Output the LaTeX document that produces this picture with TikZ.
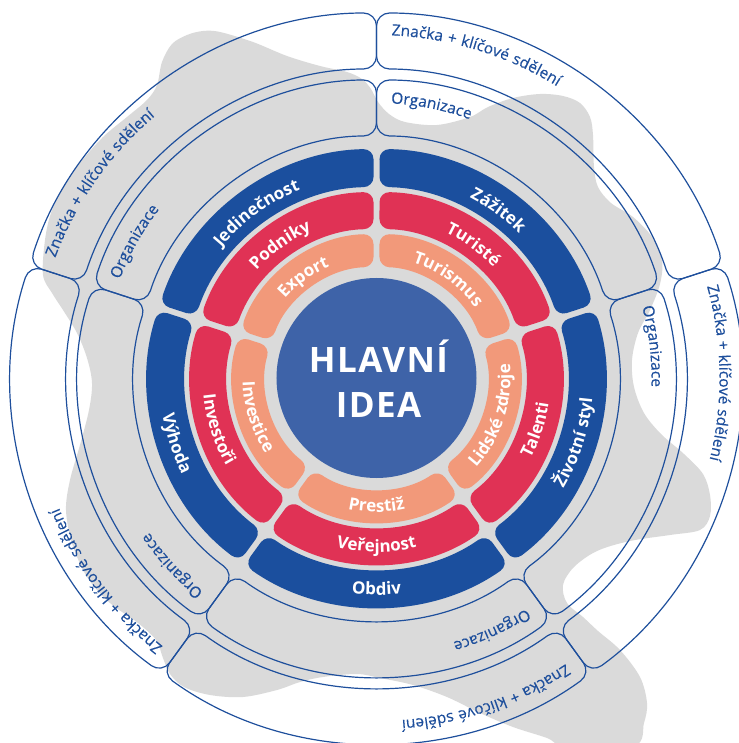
\documentclass[tikz,border=0pt]{standalone}
\usepackage{fontspec}
\setmainfont{Open Sans}
\newfontfamily\olfontfam[LetterSpace=5,FakeBold=0.35]{Open Sans}
\newfontfamily\lblfam[LetterSpace=5]{Open Sans}
\newfontfamily\ideafam[LetterSpace=4]{Open Sans}
\usetikzlibrary{decorations.text}
\definecolor{ringblue}{HTML}{1B4F9E}
\definecolor{diskblue}{HTML}{3E63A8}
\definecolor{ringred}{HTML}{E03255}
\definecolor{ringsalmon}{HTML}{F2997A}
\definecolor{blobgray}{HTML}{DADADA}
\definecolor{linecol}{HTML}{1E4F9C}
\newcommand\lblfont{\lblfam\fontsize{17}{17}\selectfont\bfseries}
\newcommand\olfont{\olfontfam\fontsize{15.5}{15.5}\selectfont}
% annular sector: #1 a1 < #2 a2, #3 inner r, #4 outer r, #5 half gap, #6 style
\newcommand\ringseg[6]{%
  \pgfmathsetmacro\segoa{#1+asin(#5/#4)}%
  \pgfmathsetmacro\segob{#2-asin(#5/#4)}%
  \pgfmathsetmacro\segia{#1+asin(#5/#3)}%
  \pgfmathsetmacro\segib{#2-asin(#5/#3)}%
  \path[#6] (\segoa:#4) arc[start angle=\segoa, end angle=\segob, radius=#4]
    -- (\segib:#3) arc[start angle=\segib, end angle=\segia, radius=#3] -- cycle;
}
\pgfkeys{/pgf/decoration/.cd,
  inlbl/.style={text align=center, text color=white},
  outlbl/.style={text align=left, text color=linecol}}
% text along an arc: #1 from, #2 to, #3 radius, #4 text, #5 decoration style
\newcommand\arclabel[5]{%
  \path[decorate, decoration={text along path, #5, text={#4}}]
    (#1:#3) arc[start angle=#1, end angle=#2, radius=#3];
}
\tikzset{
  colseg/.style={fill=#1, rounded corners=10},
  outbox/.style={draw=linecol, line width=1.2, rounded corners=13}
}
\begin{document}
\begin{tikzpicture}[x=1pt,y=1pt]
\useasboundingbox (-376.5,-365) rectangle (361.5,378);
% gray blob (pixel coordinates)
\begin{scope}[shift={(-376.5,378)},yscale=-1]
\fill[blobgray] plot[smooth cycle, tension=0.55] coordinates {
(43,275) (45,240) (51,213) (63,187) (80,163) (103,137) (127,117) (147,100)
(157,85) (162,62) (172,44) (187,35) (203,31) (220,32) (253,42) (287,56)
(320,66) (347,72) (362,79) (371,89) (378,102) (389,114) (405,122) (437,125)
(470,117) (488,107) (513,98) (540,94) (563,96) (580,103) (590,117) (593,135)
(594,167) (598,187) (611,203) (633,217) (652,237) (662,260) (660,284) (650,310)
(638,333) (632,360) (634,387) (644,413) (661,434) (684,454) (703,474) (710,495)
(710,516) (700,530) (670,535) (630,541) (597,551) (574,567) (563,585) (567,603)
(583,617) (598,631) (620,650) (640,677) (647,703) (644,723) (634,746) (567,747)
(547,738) (513,727) (480,713) (447,697) (413,685) (380,678) (357,674) (323,677)
(300,682) (277,690) (243,697) (210,695) (184,687) (170,674) (163,658) (156,640)
(138,623) (110,603) (87,577) (72,543) (66,510) (70,480) (80,445) (89,410)
(92,383) (87,358) (77,333) (63,310) (52,293)};
\end{scope}
\fill[blobgray] (0,0) circle[radius=238];
% rings
\foreach \a in {18,-54,-126,162,90}{
  \pgfmathsetmacro\b{\a+72}
  \ringseg{\a}{\b}{191}{229}{3}{colseg=ringblue}
  \ringseg{\a}{\b}{149}{186}{3}{colseg=ringred}
  \ringseg{\a}{\b}{111}{144}{3}{colseg=ringsalmon}
  \ringseg{\a}{\b}{242}{298}{0}{outbox}
  \ringseg{\a}{\b}{309}{365}{0}{outbox}
  \pgfmathsetmacro\zs{\a+72-2.5}
  \pgfmathsetmacro\os{\a+72-3}
  \pgfmathsetmacro\ze{\a+3}
  \arclabel{\zs}{\ze}{343}{|\olfont|Značka + klíčové sdělení}{outlbl}
  \arclabel{\os}{\ze}{275}{|\olfont|Organizace}{outlbl}
}
\fill[diskblue] (0,0) circle[radius=100];
% blue ring labels
\arclabel{162}{90}{203}{|\lblfont|Jedinečnost}{inlbl}
\arclabel{90}{18}{203}{|\lblfont|Zážitek}{inlbl}
\arclabel{-54}{18}{217}{|\lblfont|Životní styl}{inlbl}
\arclabel{-126}{-54}{217}{|\lblfont|Obdiv}{inlbl}
\arclabel{162}{234}{217}{|\lblfont|Výhoda}{inlbl}
% red ring labels
\arclabel{162}{90}{161}{|\lblfont|Podniky}{inlbl}
\arclabel{90}{18}{161}{|\lblfont|Turisté}{inlbl}
\arclabel{-54}{18}{174}{|\lblfont|Talenti}{inlbl}
\arclabel{-126}{-54}{174}{|\lblfont|Veřejnost}{inlbl}
\arclabel{162}{234}{174}{|\lblfont|Investoři}{inlbl}
% salmon ring labels
\arclabel{162}{90}{121}{|\lblfont|Export}{inlbl}
\arclabel{90}{18}{121}{|\lblfont|Turismus}{inlbl}
\arclabel{-54}{18}{134}{|\lblfont|Lidské zdroje}{inlbl}
\arclabel{-126}{-54}{134}{|\lblfont|Prestiž}{inlbl}
\arclabel{162}{234}{134}{|\lblfont|Investice}{inlbl}
% centre
\node[text=white, font=\ideafam\bfseries\fontsize{35}{35}\selectfont, anchor=base, inner sep=0] (hl) at (2,5) {HLAVNÍ};
\node[text=white, font=\ideafam\bfseries\fontsize{35}{35}\selectfont, anchor=base, inner sep=0] (id) at (2,-40) {IDEA};
\end{tikzpicture}
\end{document}
